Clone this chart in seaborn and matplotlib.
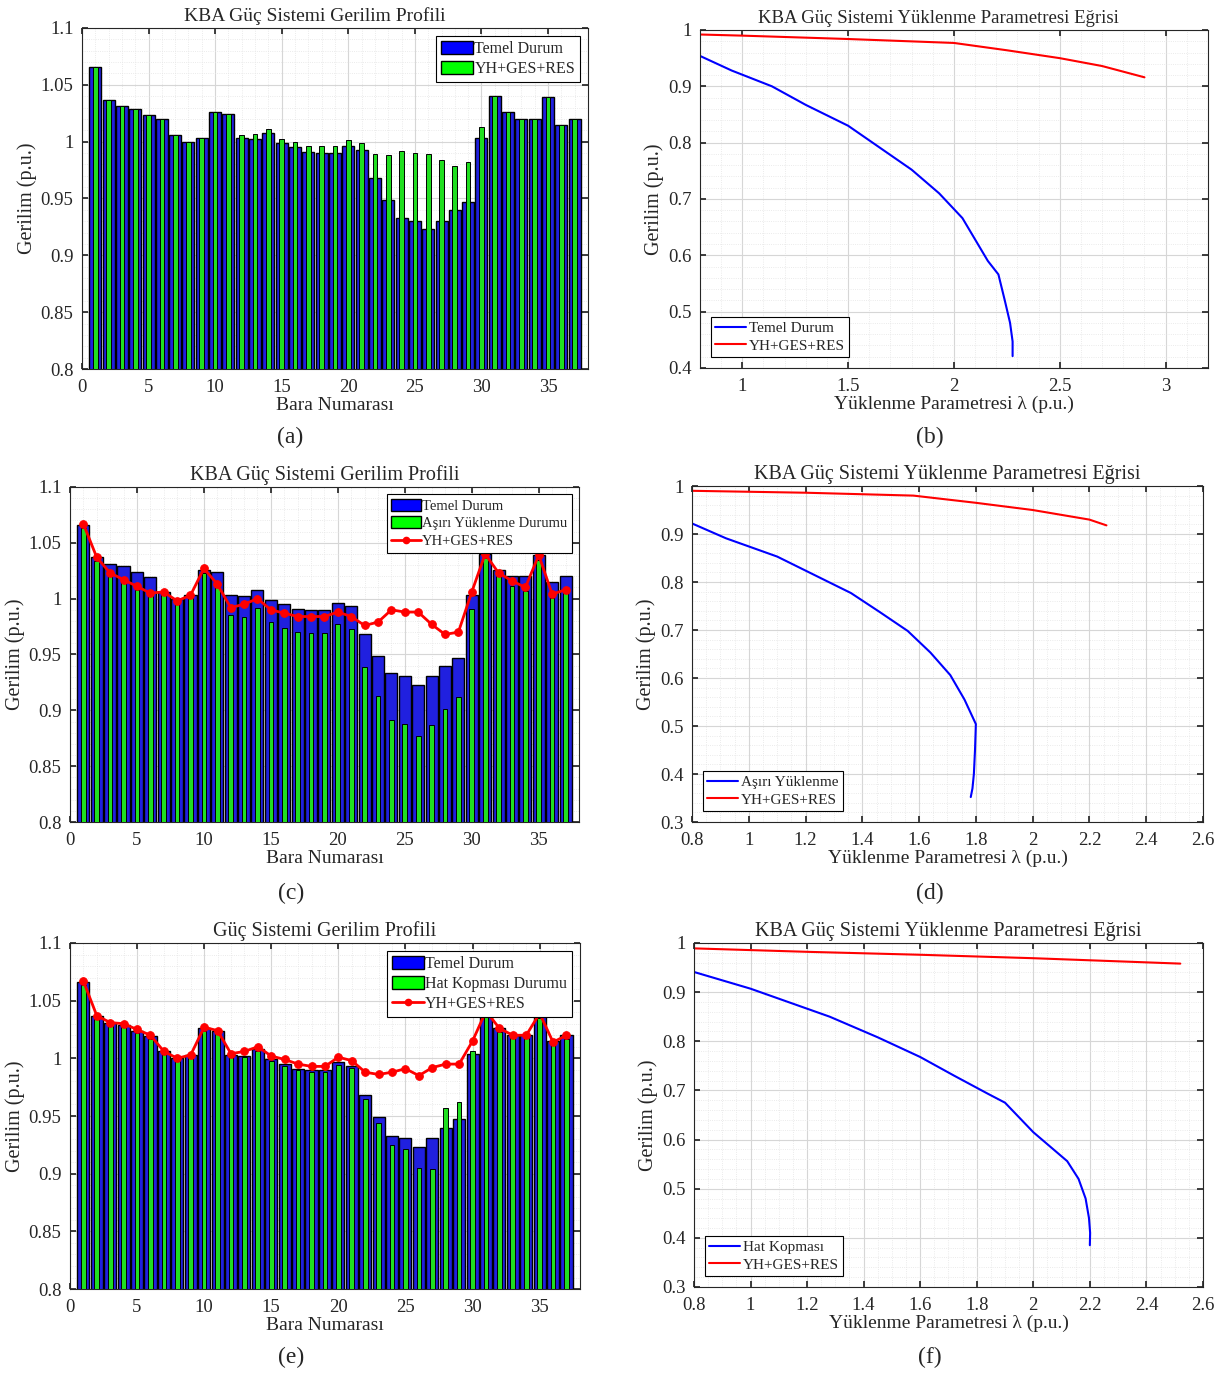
import pandas as pd
import seaborn as sns
import matplotlib.pyplot as plt
from matplotlib.patches import Patch
from matplotlib.lines import Line2D
from matplotlib.ticker import AutoMinorLocator, MultipleLocator, FuncFormatter

# ---- bus voltage profiles (p.u.) ----
bus = list(range(1, 38))

v_base = [1.066, 1.037, 1.031, 1.029, 1.0235, 1.0195, 1.006, 1.000, 1.003, 1.026,
          1.024, 1.003, 1.002, 1.008, 0.999, 0.995, 0.991, 0.990, 0.990, 0.9965,
          0.993, 0.968, 0.949, 0.933, 0.9305, 0.923, 0.9305, 0.9395, 0.947, 1.0035,
          1.040, 1.026, 1.020, 1.020, 1.039, 1.015, 1.020]

v_res_a = [1.066, 1.037, 1.031, 1.029, 1.0235, 1.0195, 1.006, 1.000, 1.003, 1.026,
           1.024, 1.006, 1.007, 1.011, 1.002, 1.000, 0.996, 0.996, 0.996, 1.001,
           0.999, 0.9895, 0.988, 0.992, 0.990, 0.9895, 0.984, 0.979, 0.982, 1.0125,
           1.040, 1.026, 1.020, 1.020, 1.039, 1.015, 1.020]

v_overload = [1.063, 1.034, 1.020, 1.016, 1.008, 1.005, 1.004, 0.997, 1.001, 1.023,
              1.010, 0.985, 0.984, 0.992, 0.979, 0.974, 0.970, 0.969, 0.969, 0.977,
              0.973, 0.939, 0.913, 0.891, 0.888, 0.877, 0.887, 0.901, 0.912, 0.991,
              1.036, 1.020, 1.011, 1.007, 1.035, 1.001, 1.005]

v_res_c = [1.067, 1.037, 1.023, 1.017, 1.011, 1.005, 1.006, 0.998, 1.003, 1.027,
           1.013, 0.992, 0.995, 1.000, 0.990, 0.987, 0.984, 0.984, 0.984, 0.988,
           0.984, 0.976, 0.979, 0.990, 0.988, 0.988, 0.977, 0.968, 0.970, 1.006,
           1.040, 1.023, 1.016, 1.010, 1.039, 1.004, 1.008]

v_outage = [1.064, 1.034, 1.029, 1.027, 1.022, 1.017, 1.004, 0.998, 1.001, 1.024,
            1.021, 1.002, 1.001, 1.006, 0.998, 0.993, 0.990, 0.988, 0.988, 0.994,
            0.992, 0.965, 0.944, 0.925, 0.921, 0.905, 0.904, 0.957, 0.962, 1.006,
            1.036, 1.023, 1.018, 1.018, 1.035, 1.012, 1.017]

v_res_e = [1.067, 1.037, 1.031, 1.030, 1.025, 1.020, 1.006, 1.000, 1.003, 1.027,
           1.024, 1.004, 1.006, 1.010, 1.002, 0.999, 0.995, 0.993, 0.993, 1.001,
           0.998, 0.988, 0.986, 0.988, 0.991, 0.985, 0.992, 0.995, 0.995, 1.015,
           1.041, 1.026, 1.020, 1.020, 1.039, 1.014, 1.020]

# ---- PV (nose) curves ----
lam_b_base = [0.80, 0.95, 1.14, 1.30, 1.50, 1.65, 1.80, 1.93, 2.04, 2.10, 2.16, 2.21, 2.24, 2.265, 2.277, 2.277]
v_b_base = [0.954, 0.928, 0.900, 0.867, 0.830, 0.791, 0.752, 0.710, 0.666, 0.628, 0.590, 0.566, 0.520, 0.480, 0.447, 0.421]
lam_b_res = [0.80, 1.00, 1.50, 2.00, 2.25, 2.50, 2.70, 2.90]
v_b_res = [0.992, 0.990, 0.984, 0.977, 0.964, 0.950, 0.936, 0.916]

lam_d_over = [0.80, 0.92, 1.10, 1.23, 1.36, 1.46, 1.56, 1.64, 1.71, 1.76, 1.80, 1.797, 1.793, 1.788, 1.782]
v_d_over = [0.922, 0.891, 0.853, 0.815, 0.777, 0.738, 0.698, 0.653, 0.606, 0.555, 0.504, 0.450, 0.400, 0.370, 0.352]
lam_d_res = [0.80, 1.20, 1.58, 1.80, 2.00, 2.20, 2.26]
v_d_res = [0.990, 0.986, 0.980, 0.965, 0.950, 0.930, 0.918]

lam_f_out = [0.80, 1.00, 1.28, 1.45, 1.60, 1.72, 1.84, 1.90, 2.00, 2.12, 2.16, 2.185, 2.197, 2.201, 2.200]
v_f_out = [0.941, 0.907, 0.850, 0.808, 0.768, 0.730, 0.693, 0.675, 0.615, 0.556, 0.520, 0.480, 0.440, 0.410, 0.385]
lam_f_res = [0.80, 1.20, 1.60, 2.00, 2.52]
v_f_res = [0.989, 0.982, 0.976, 0.969, 0.958]

BLUE = '#0000ff'
GREEN = '#00ff00'
RED = '#ff0000'
fmt = FuncFormatter(lambda v, p: '%g' % round(v, 4))


def style_axes(ax, title, xlabel, xminor, yminor, tsize=14.5, tx=0.5):
    ax.set_title(title, fontsize=tsize, pad=5, x=tx)
    ax.set_xlabel(xlabel, fontsize=14, labelpad=1)
    ax.set_ylabel('Gerilim (p.u.)', fontsize=14.5, labelpad=3)
    ax.xaxis.set_minor_locator(AutoMinorLocator(xminor))
    ax.yaxis.set_minor_locator(AutoMinorLocator(yminor))
    ax.xaxis.set_major_formatter(fmt)
    ax.yaxis.set_major_formatter(fmt)
    ax.grid(True, which='major', color='#d6d6d6', linewidth=0.8)
    ax.grid(True, which='minor', color='#e4e4e4', linewidth=0.6, linestyle=':')
    ax.set_axisbelow(True)
    ax.tick_params(which='both', direction='in', top=True, right=True,
                   labelsize=13.5, colors='#262626')
    ax.tick_params(axis='x', which='major', pad=7)
    ax.tick_params(axis='y', which='major', pad=6)
    ax.tick_params(which='major', length=4)
    ax.tick_params(which='minor', length=0)
    for s in ax.spines.values():
        s.set_color('#262626')
        s.set_linewidth(0.8)


def bar_panel(ax, title, green, green_label, red=None, tsize=14.5, tx=0.5, lsize=11.5):
    sns.barplot(x=bus, y=v_base, native_scale=True, width=0.9, color=BLUE,
                edgecolor='black', linewidth=1.0, errorbar=None, ax=ax, zorder=2)
    sns.barplot(x=bus, y=green, native_scale=True, width=0.35, color=GREEN,
                edgecolor='black', linewidth=0.7, errorbar=None, ax=ax, zorder=3)
    handles = [Patch(facecolor=BLUE, edgecolor='black'),
               Patch(facecolor=GREEN, edgecolor='black')]
    labels = ['Temel Durum', green_label]
    if red is not None:
        sns.lineplot(x=bus, y=red, color=RED, marker='o', markersize=5.5,
                     markeredgecolor=RED, linewidth=2, ax=ax, zorder=4)
        handles.append(Line2D([], [], color=RED, marker='o', markersize=4.5, linewidth=2))
        labels.append('YH+GES+RES')
    ax.set_xlim(0, 38)
    ax.set_ylim(0.8, 1.1)
    ax.xaxis.set_major_locator(MultipleLocator(5))
    ax.yaxis.set_major_locator(MultipleLocator(0.05))
    style_axes(ax, title, 'Bara Numarası', 5, 5, tsize, tx)
    leg = ax.legend(handles, labels, loc='upper right', fontsize=lsize, frameon=True,
                    fancybox=False, edgecolor='black', framealpha=1,
                    handlelength=2.0, handleheight=0.9, handletextpad=0.1,
                    borderpad=0.3, labelspacing=0.25, borderaxespad=0.5)
    leg.get_frame().set_linewidth(0.8)


def pv_panel(ax, lam1, v1, lab1, lam2, v2, xlim, ylim, xstep, tsize=14.5, tx=0.5):
    sns.lineplot(x=lam1, y=v1, sort=False, estimator=None, color=BLUE,
                 linewidth=1.5, label=lab1, ax=ax)
    sns.lineplot(x=lam2, y=v2, sort=False, estimator=None, color=RED,
                 linewidth=1.5, label='YH+GES+RES', ax=ax)
    ax.set_xlim(*xlim)
    ax.set_ylim(*ylim)
    ax.xaxis.set_major_locator(MultipleLocator(xstep))
    ax.yaxis.set_major_locator(MultipleLocator(0.1))
    style_axes(ax, 'KBA Güç Sistemi Yüklenme Parametresi Eğrisi',
               'Yüklenme Parametresi λ (p.u.)', 5 if xstep == 0.5 else 4, 5, tsize, tx)
    leg = ax.legend(loc='lower left', fontsize=11, frameon=True, fancybox=False,
                    edgecolor='black', framealpha=1, handlelength=2.0,
                    handletextpad=0.2, borderpad=0.3, labelspacing=0.25,
                    borderaxespad=0.7)
    leg.get_frame().set_linewidth(0.8)


sns.set_theme(style='ticks')
plt.rcParams['font.family'] = ['Liberation Serif', 'DejaVu Serif']

fig = plt.figure(figsize=(12.25, 13.76), dpi=100)

ax_a = fig.add_axes([0.0669, 0.7318, 0.4131, 0.2479])
ax_b = fig.add_axes([0.5714, 0.7326, 0.4147, 0.2456])
ax_c = fig.add_axes([0.0571, 0.4026, 0.4155, 0.2435])
ax_d = fig.add_axes([0.5649, 0.4026, 0.4171, 0.2442])
ax_e = fig.add_axes([0.0571, 0.0632, 0.4163, 0.2515])
ax_f = fig.add_axes([0.5665, 0.0647, 0.4155, 0.2500])

bar_panel(ax_a, 'KBA Güç Sistemi Gerilim Profili', v_res_a, 'YH+GES+RES',
          tsize=14, tx=0.46)
pv_panel(ax_b, lam_b_base, v_b_base, 'Temel Durum', lam_b_res, v_b_res,
         (0.8, 3.2), (0.4, 1.0), 0.5, tsize=13.5, tx=0.47)
bar_panel(ax_c, 'KBA Güç Sistemi Gerilim Profili', v_overload,
          'Aşırı Yüklenme Durumu', v_res_c, lsize=10.5)
pv_panel(ax_d, lam_d_over, v_d_over, 'Aşırı Yüklenme', lam_d_res, v_d_res,
         (0.8, 2.6), (0.3, 1.0), 0.2)
bar_panel(ax_e, 'Güç Sistemi Gerilim Profili', v_outage,
          'Hat Kopması Durumu', v_res_e)
pv_panel(ax_f, lam_f_out, v_f_out, 'Hat Kopması', lam_f_res, v_f_res,
         (0.8, 2.6), (0.3, 1.0), 0.2)

# panel letters under each chart
for letter, x, y in [('(a)', 0.237, 0.6824), ('(b)', 0.759, 0.6824),
                     ('(c)', 0.238, 0.351), ('(d)', 0.759, 0.351),
                     ('(e)', 0.238, 0.0138), ('(f)', 0.759, 0.0138)]:
    fig.text(x, y, letter, ha='center', va='center', fontsize=17)

fig.savefig('out.png', dpi=100)
